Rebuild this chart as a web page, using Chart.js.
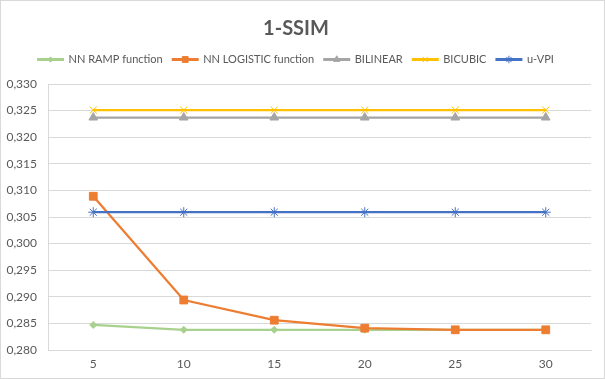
<!DOCTYPE html>
<html>
<head>
<meta charset="utf-8">
<script src="https://cdn.jsdelivr.net/npm/chart.js@4"></script>
<style>
  body { margin: 0; background: #fff; }
  #wrap { width: 603px; height: 377px; border: 1px solid #d9d9d9; }
</style>
</head>
<body>
<div id="wrap"><canvas id="myChart" width="603" height="377"></canvas></div>
<script>
// data
const categories = ['5', '10', '15', '20', '25', '30'];
const nnRamp = [0.2847, 0.2838, 0.2838, 0.2838, 0.2838, 0.2838];
const nnLogistic = [0.3089, 0.2894, 0.2856, 0.2841, 0.2838, 0.2838];
const bilinear = [0.3237, 0.3237, 0.3237, 0.3237, 0.3237, 0.3237];
const bicubic = [0.3251, 0.3251, 0.3251, 0.3251, 0.3251, 0.3251];
const uVpi = [0.3059, 0.3059, 0.3059, 0.3059, 0.3059, 0.3059];
const yTicks = [0.280, 0.285, 0.290, 0.295, 0.300, 0.305, 0.310, 0.315, 0.320, 0.325, 0.330];

const textColor = '#595959';
const font = "Lato, 'Liberation Sans', sans-serif";

function series(label, data, color, style, radius, filled, order) {
    return {
        label: label,
        data: data,
        borderColor: color,
        backgroundColor: filled ? color : 'rgba(0,0,0,0)',
        pointBorderColor: color,
        pointBackgroundColor: filled ? color : 'rgba(0,0,0,0)',
        borderWidth: 2.25,
        pointStyle: style,
        pointRadius: radius,
        pointHoverRadius: radius,
        pointBorderWidth: 1,
        tension: 0,
        order: order
    };
}

// draw a small marker on top of each legend line
const legendMarkers = {
    id: 'legendMarkers',
    beforeInit(chart) {
        const fit = chart.legend.fit;
        chart.legend.fit = function () {
            fit.bind(chart.legend)();
            this.height += 9;
        };
    },
    afterDraw(chart) {
        const legend = chart.legend;
        if (!legend || !legend.legendHitBoxes) return;
        const ctx = chart.ctx;
        const boxW = legend.options.labels.boxWidth;
        legend.legendHitBoxes.forEach((box, i) => {
            const ds = chart.data.datasets[i];
            ctx.save();
            ctx.fillStyle = ds.pointBackgroundColor;
            ctx.strokeStyle = ds.pointBorderColor;
            ctx.lineWidth = 1;
            Chart.helpers.drawPoint(ctx, {
                pointStyle: ds.pointStyle,
                radius: ds.pointRadius * 0.75,
                rotation: 0,
                borderWidth: 1
            }, box.left + boxW / 2, box.top + box.height / 2);
            ctx.restore();
        });
    }
};

const ctx = document.getElementById('myChart').getContext('2d');
const myChart = new Chart(ctx, {
    type: 'line',
    data: {
        labels: categories,
        datasets: [
            series('NN RAMP function', nnRamp, '#A9D18E', 'rectRot', 3.5, true, 4),
            series('NN LOGISTIC function', nnLogistic, '#ED7D31', 'rect', 5.5, true, 3),
            series('BILINEAR', bilinear, '#A5A5A5', 'triangle', 5, true, 2),
            series('BICUBIC', bicubic, '#FFC000', 'crossRot', 5, false, 1),
            series('u-VPI', uVpi, '#4472C4', 'star', 5, false, 0)
        ]
    },
    options: {
        responsive: false,
        animation: false,
        layout: { padding: { left: 0, right: 13, top: 0, bottom: 0 } },
        plugins: {
            title: {
                display: true,
                text: '1-SSIM',
                color: textColor,
                font: { family: font, size: 20, weight: 'bold' },
                padding: { top: 16, bottom: 3 }
            },
            legend: {
                position: 'top',
                labels: {
                    color: textColor,
                    font: { family: font, size: 11 },
                    boxWidth: 25,
                    boxHeight: 1,
                    padding: 10,
                    generateLabels(chart) {
                        return chart.data.datasets.map((ds, i) => ({
                            text: ds.label,
                            fillStyle: ds.borderColor,
                            strokeStyle: ds.borderColor,
                            lineWidth: 2,
                            fontColor: textColor,
                            datasetIndex: i
                        }));
                    }
                }
            },
            tooltip: { enabled: false }
        },
        scales: {
            x: {
                offset: true,
                afterFit(s) { s.height = 28; },
                grid: { display: false, drawTicks: false },
                border: { color: '#d9d9d9' },
                ticks: { color: textColor, font: { family: font, size: 12 }, padding: 7 }
            },
            y: {
                min: yTicks[0],
                max: yTicks[yTicks.length - 1],
                afterFit(s) { s.width = 47; },
                afterBuildTicks(s) { s.ticks = yTicks.map(v => ({ value: v })); },
                grid: { color: '#d9d9d9', drawTicks: false },
                border: { color: '#d9d9d9' },
                ticks: {
                    color: textColor,
                    font: { family: font, size: 12 },
                    padding: 11,
                    callback: v => v.toFixed(3).replace('.', ',')
                }
            }
        }
    },
    plugins: [legendMarkers]
});
</script>
</body>
</html>
